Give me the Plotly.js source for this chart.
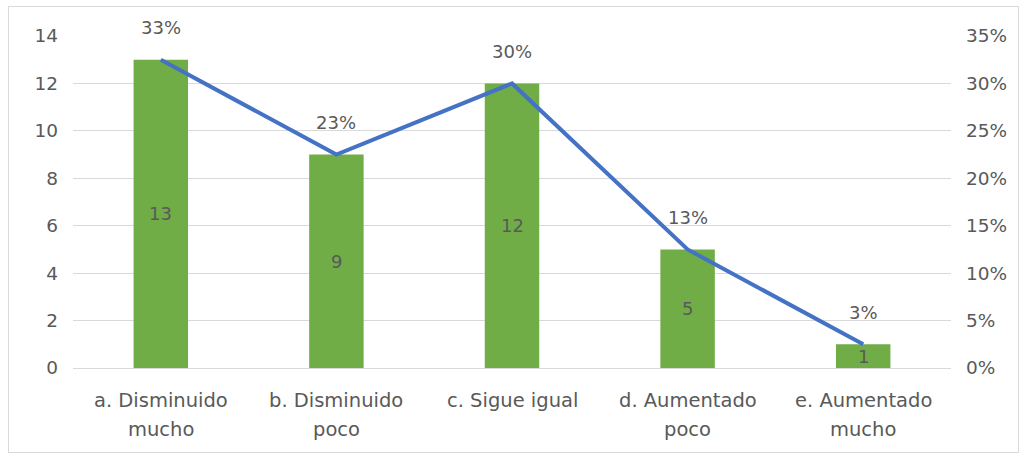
<!DOCTYPE html>
<html>
<head>
<meta charset="utf-8">
<script src="https://cdn.plot.ly/plotly-3.0.1.min.js"></script>
<style>
  html, body { margin: 0; padding: 0; background: #ffffff; }
  #chart { width: 1026px; height: 457px; }
  #frame { position: absolute; left: 8px; top: 6px; width: 1009px; height: 445px;
           border: 1px solid #D9D9D9; pointer-events: none; }
</style>
</head>
<body>
<div id="chart"></div>
<div id="frame"></div>
<script>
// Survey answers: count per option and its share of the total
const categories = [
  'a. Disminuido mucho',
  'b. Disminuido poco',
  'c. Sigue igual',
  'd. Aumentado poco',
  'e. Aumentado mucho'
];
// Category names as they are wrapped under the axis
const categoryLines = [
  ['a. Disminuido', 'mucho'],
  ['b. Disminuido', 'poco'],
  ['c. Sigue igual'],
  ['d. Aumentado', 'poco'],
  ['e. Aumentado', 'mucho']
];
const counts = [13, 9, 12, 5, 1];
const shares = [0.325, 0.225, 0.30, 0.125, 0.025];
const shareLabels = ['33%', '23%', '30%', '13%', '3%'];

const textColor = '#595959';
const fontFamily = 'DejaVu Sans, sans-serif';

const bars = {
  type: 'bar',
  x: categories,
  y: counts,
  marker: { color: '#70AD47' },
  width: 0.31,
  hoverinfo: 'skip'
};

const line = {
  type: 'scatter',
  mode: 'lines',
  x: categories,
  y: shares,
  yaxis: 'y2',
  line: { color: '#4472C4', width: 4 },
  hoverinfo: 'skip'
};

const annotations = [];

// Count labels centred in each bar
categories.forEach((c, i) => {
  annotations.push({
    x: c, y: counts[i] / 2, xref: 'x', yref: 'y',
    text: String(counts[i]), showarrow: false,
    xanchor: 'center', yanchor: 'middle',
    font: { family: fontFamily, size: 18, color: textColor }
  });
});

// Percentage labels above each point of the line
categories.forEach((c, i) => {
  annotations.push({
    x: c, y: shares[i], xref: 'x', yref: 'y2',
    text: shareLabels[i], showarrow: false,
    yanchor: 'middle', yshift: 32,
    font: { family: fontFamily, size: 18, color: textColor }
  });
});

// Category names under the axis, one line per annotation
categories.forEach((c, i) => {
  categoryLines[i].forEach((txt, j) => {
    annotations.push({
      x: c, y: 0, xref: 'x', yref: 'paper',
      text: txt, showarrow: false,
      xanchor: 'center', yanchor: 'middle',
      yshift: -32 - 29 * j,
      font: { family: fontFamily, size: 19.5, color: textColor }
    });
  });
});

const layout = {
  width: 1026,
  height: 457,
  margin: { l: 73, r: 75, t: 36, b: 89 },
  paper_bgcolor: '#ffffff',
  plot_bgcolor: '#ffffff',
  showlegend: false,
  font: { family: fontFamily, size: 18, color: textColor },
  xaxis: {
    showgrid: false,
    showline: false,
    zeroline: false,
    ticks: '',
    showticklabels: false
  },
  yaxis: {
    range: [0, 14],
    dtick: 2,
    tick0: 0,
    showgrid: true,
    gridcolor: '#D9D9D9',
    gridwidth: 1,
    zeroline: true,
    zerolinecolor: '#D9D9D9',
    zerolinewidth: 1,
    showline: false,
    ticks: '',
    tickfont: { family: fontFamily, size: 18.5, color: textColor },
    ticklabelstandoff: 14
  },
  yaxis2: {
    overlaying: 'y',
    side: 'right',
    range: [0, 0.35],
    dtick: 0.05,
    tick0: 0,
    tickformat: '.0%',
    showgrid: false,
    zeroline: false,
    showline: false,
    ticks: '',
    tickfont: { family: fontFamily, size: 18.5, color: textColor },
    ticklabelstandoff: 14
  },
  annotations: annotations
};

Plotly.newPlot('chart', [bars, line], layout, { displayModeBar: false, staticPlot: true });
</script>
</body>
</html>
